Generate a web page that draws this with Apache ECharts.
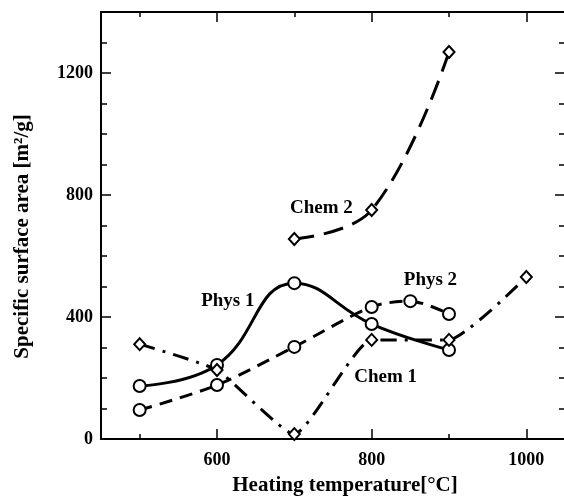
<!DOCTYPE html>
<html>
<head>
<meta charset="utf-8">
<script src="https://cdn.jsdelivr.net/npm/echarts@6/dist/echarts.min.js"></script>
<style>html,body{margin:0;padding:0;background:#fff}#c{width:564px;height:496px}</style>
</head>
<body>
<div id="c"></div>
<script>
// Data
const phys1T = [500, 600, 700, 800, 900];
const phys1V = [174, 243, 511, 377, 292];
const phys2T = [500, 600, 700, 800, 850, 900];
const phys2V = [95, 177, 302, 433, 452, 410];
const chem1T = [500, 600, 700, 800, 900, 1000];
const chem1V = [311, 226, 16, 325, 325, 531];
const chem2T = [700, 800, 900];
const chem2V = [656, 751, 1269];
const xMajor = [600, 800, 1000];
const xMinor = [500, 700, 900];
const yMajor = [0, 400, 800, 1200];
const yMinor = [100, 200, 300, 500, 600, 700, 900, 1000, 1100, 1300];
const labelNames = ['Phys 1', 'Phys 2', 'Chem 1', 'Chem 2'];
const labelT = [614, 876, 818, 735];
const labelV = [452, 521, 203, 757];

const FONT = "'Liberation Serif', 'Times New Roman', serif";
const pairs = (t, v) => t.map((x, i) => [x, v[i]]);
const plain = v => String(v);

function xAx(pos, ticks, len, showLine, labels) {
  return {
    type: 'value', position: pos, min: 450, max: 1050,
    axisLine: { show: showLine, onZero: false, lineStyle: { color: '#000', width: 2 } },
    axisTick: { show: true, inside: true, length: len, customValues: ticks, lineStyle: { color: '#000', width: 1.5 } },
    axisLabel: labels ? { show: true, customValues: labels, formatter: plain, margin: 12, color: '#000', fontFamily: FONT, fontWeight: 'bold', fontSize: 18 } : { show: false },
    splitLine: { show: false }
  };
}
function yAx(pos, ticks, len, showLine, labels) {
  return {
    type: 'value', position: pos, min: 0, max: 1400,
    axisLine: { show: showLine, onZero: false, lineStyle: { color: '#000', width: 2 } },
    axisTick: { show: true, inside: true, length: len, customValues: ticks, lineStyle: { color: '#000', width: 1.5 } },
    axisLabel: labels ? { show: true, customValues: labels, formatter: plain, margin: 8, color: '#000', fontFamily: FONT, fontWeight: 'bold', fontSize: 18 } : { show: false },
    splitLine: { show: false }
  };
}

const xAxes = [
  xAx('bottom', xMajor, 10, true, xMajor),
  xAx('bottom', xMinor, 5, false, null),
  xAx('top', xMajor, 10, true, null),
  xAx('top', xMinor, 5, false, null)
];
Object.assign(xAxes[0], {
  name: 'Heating temperature[°C]', nameLocation: 'middle', nameGap: 36,
  nameTextStyle: { color: '#000', fontFamily: FONT, fontWeight: 'bold', fontSize: 21, padding: [0, 0, 0, 24] }
});
const yAxes = [
  yAx('left', yMajor, 10, true, yMajor),
  yAx('left', yMinor, 6, false, null),
  yAx('right', yMajor, 10, true, null),
  yAx('right', yMinor, 6, false, null)
];
Object.assign(yAxes[0], {
  name: 'Specific surface area [m²/g]', nameLocation: 'middle', nameGap: 68,
  nameTextStyle: { color: '#000', fontFamily: FONT, fontWeight: 'bold', fontSize: 21, padding: [0, 22, 0, 0] }
});

const circ = { symbol: 'circle', symbolSize: 12, itemStyle: { color: '#fff', borderColor: '#000', borderWidth: 2 } };
const diam = { symbol: 'diamond', symbolSize: [11, 12], itemStyle: { color: '#fff', borderColor: '#000', borderWidth: 2 } };

const chart = echarts.init(document.getElementById('c'), null, { renderer: 'canvas' });
chart.setOption({
  animation: false,
  backgroundColor: '#fff',
  grid: { left: 101, top: 12, right: -1, bottom: 57, containLabel: false, outerBoundsMode: 'none' },
  xAxis: xAxes,
  yAxis: yAxes,
  series: [
    Object.assign({ type: 'line', name: 'Phys 1', data: pairs(phys1T, phys1V), smooth: 0.45,
      lineStyle: { color: '#000', width: 3, type: 'solid' } }, circ),
    Object.assign({ type: 'line', name: 'Phys 2', data: pairs(phys2T, phys2V), smooth: 0.3,
      lineStyle: { color: '#000', width: 3, type: [13, 8] } }, circ),
    Object.assign({ type: 'line', name: 'Chem 1', data: pairs(chem1T, chem1V), smooth: 0.16,
      lineStyle: { color: '#000', width: 3, type: [16, 8, 3, 8] } }, diam),
    Object.assign({ type: 'line', name: 'Chem 2', data: pairs(chem2T, chem2V), smooth: 0.4,
      lineStyle: { color: '#000', width: 3, type: [20, 10] } }, diam),
    { type: 'scatter', silent: true, symbol: 'circle', symbolSize: 0.1, itemStyle: { color: '#000', opacity: 1 },
      data: labelNames.map((n, i) => ({ name: n, value: [labelT[i], labelV[i]] })),
      label: { show: true, position: 'inside', formatter: p => p.name, color: '#000', opacity: 1,
        fontFamily: FONT, fontWeight: 'bold', fontSize: 19 } }
  ]
});
</script>
</body>
</html>
